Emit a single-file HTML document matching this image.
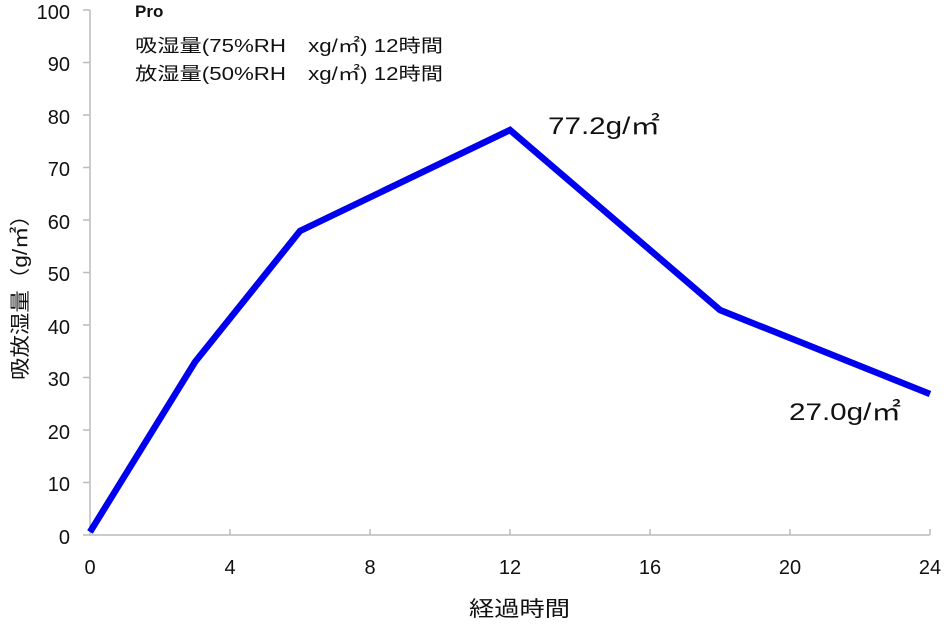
<!DOCTYPE html>
<html><head><meta charset="utf-8"><style>
body{margin:0;background:#fff;}
svg text{font-family:"Liberation Sans","Noto Sans CJK JP",sans-serif;fill:#111;}
</style></head><body>
<svg width="946" height="625" xmlns="http://www.w3.org/2000/svg">
<g stroke="#bbb" stroke-width="1.5" fill="none">
<line x1="90" y1="10" x2="90" y2="535"/>
<line x1="90" y1="535" x2="930" y2="535"/>
<path d="M83 10H90M83 62.5H90M83 115H90M83 167.5H90M83 220H90M83 272.5H90M83 325H90M83 377.5H90M83 430H90M83 482.5H90M83 535H90"/>
<path d="M230 535V529M370 535V529M510 535V529M650 535V529M790 535V529M930 535V529"/>
</g>
<g font-size="20" text-anchor="end">
<text x="70" y="19">100</text><text x="70" y="71">90</text><text x="70" y="124">80</text>
<text x="70" y="176">70</text><text x="70" y="229">60</text><text x="70" y="281">50</text>
<text x="70" y="334">40</text><text x="70" y="386">30</text><text x="70" y="439">20</text>
<text x="70" y="491">10</text><text x="70" y="544">0</text>
</g>
<g font-size="20" text-anchor="middle">
<text x="90" y="574">0</text><text x="230" y="574">4</text><text x="370" y="574">8</text>
<text x="510" y="574">12</text><text x="650" y="574">16</text><text x="790" y="574">20</text>
<text x="930" y="574">24</text>
</g>
<text x="469" y="616" font-size="21" textLength="101" lengthAdjust="spacingAndGlyphs">経過時間</text>
<text transform="translate(27,380) rotate(-90)" font-size="20" textLength="176" lengthAdjust="spacingAndGlyphs">吸放湿量（g/㎡）</text>
<text x="135" y="17" font-size="17" font-weight="bold" fill="#333">Pro</text>
<text x="135" y="52" font-size="18" textLength="308" lengthAdjust="spacingAndGlyphs">吸湿量(75%RH　xg/㎡) 12時間</text>
<text x="135" y="80" font-size="18" textLength="308" lengthAdjust="spacingAndGlyphs">放湿量(50%RH　xg/㎡) 12時間</text>
<polyline points="90,532 195,362 300,231 510,130 720,310 930,394" fill="none" stroke="#0000ee" stroke-width="6.5" stroke-linejoin="miter"/>
<text x="548" y="134" font-size="24" textLength="112" lengthAdjust="spacingAndGlyphs">77.2g/㎡</text>
<text x="789" y="420" font-size="24" textLength="112" lengthAdjust="spacingAndGlyphs">27.0g/㎡</text>
</svg>
</body></html>
